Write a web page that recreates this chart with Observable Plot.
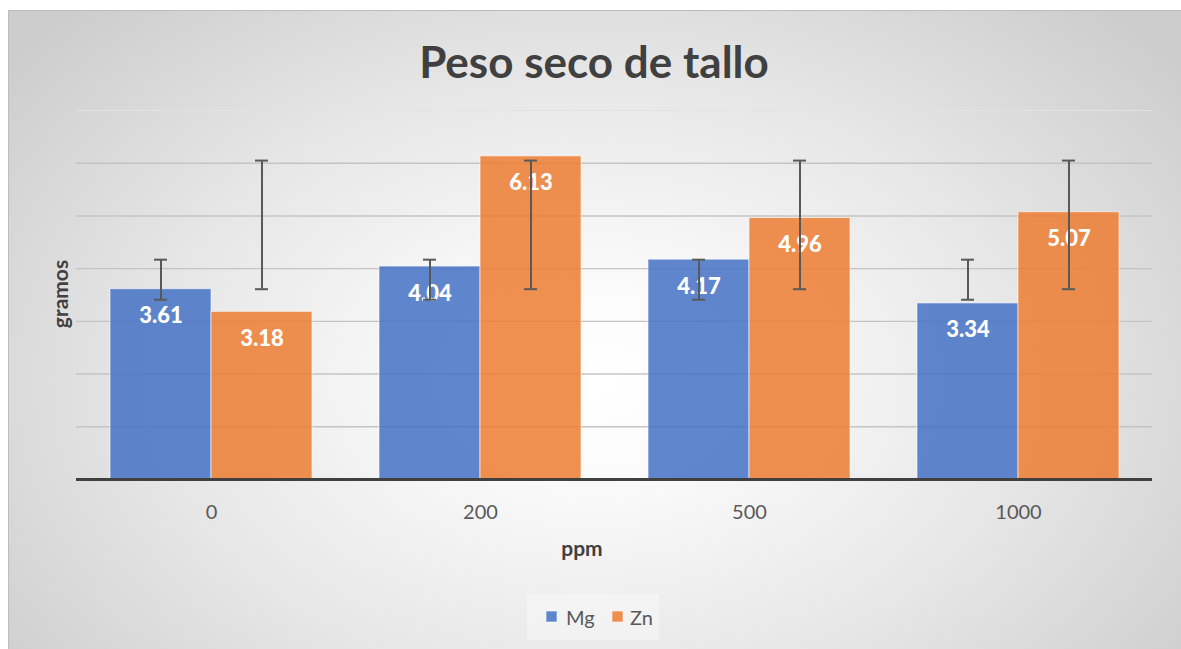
<!DOCTYPE html>
<html><head><meta charset="utf-8">
<script src="https://cdn.jsdelivr.net/npm/d3@7"></script>
<script src="https://cdn.jsdelivr.net/npm/@observablehq/plot@0.6"></script>
<style>
body{margin:0;background:#fff;}
#wrap{position:relative;width:1181px;height:649px;overflow:hidden;font-family:Lato,"Open Sans",sans-serif;}
#frame{position:absolute;left:8px;top:10px;width:1190px;height:660px;border:1px solid #bdbdbd;
 background:radial-gradient(ellipse 62% 78% at 49% 56%, #ffffff 0%, #fbfbfb 18%, #e6e6e6 60%, #cdcdcd 100%);}
.layer{position:absolute;left:0;top:90px;}
#txt{position:absolute;left:0;top:0;}
</style></head>
<body><div id="wrap"><div id="frame"></div><div id="g" class="layer"></div><div id="b" class="layer"></div><div id="a" class="layer"></div><svg id="txt" width="1181" height="649"></svg></div>
<script>
const ppm = ["0","200","500","1000"];
const series = ["Mg","Zn"];
const mg = [3.61,4.04,4.17,3.34];
const zn = [3.18,6.13,4.96,5.07];
const mgErrLow = [3.41,3.41,3.41,3.41];
const mgErrHigh = [4.17,4.17,4.17,4.17];
const znErrLow = [3.61,3.61,3.61,3.61];
const znErrHigh = [6.05,6.05,6.05,6.05];
const yGrid = [1,2,3,4,5,6];
const yTop = [7];
const colors = ["#4472C4","#ED7D31"];

const rows = [];
ppm.forEach((p,i)=>{
  rows.push({ppm:p, serie:"Mg", value:mg[i], lo:mgErrLow[i], hi:mgErrHigh[i]});
  rows.push({ppm:p, serie:"Zn", value:zn[i], lo:znErrLow[i], hi:znErrHigh[i]});
});

const common = {width:1181, height:480, marginLeft:76, marginRight:29, marginTop:20, marginBottom:91,
  y:{domain:[0,7], axis:null}, style:{background:"transparent", overflow:"visible"}};

const grid = Plot.plot({...common, x:{axis:null}, marks:[
  Plot.ruleY(yGrid, {stroke:"#c4c4c4", strokeWidth:1.4}),
  Plot.ruleY(yTop, {stroke:"#e2e2e2", strokeWidth:1.2})
]});
document.getElementById("g").append(grid);

const errStyle = {stroke:"#595959", strokeWidth:2};
const bars = Plot.plot({...common,
  fx:{domain:ppm, paddingInner:0.25, paddingOuter:0.125, label:null},
  x:{domain:series, axis:null, padding:0},
  color:{domain:series, range:colors},
  marks:[
    Plot.barY(rows, {fx:"ppm", x:"serie", y:"value", fill:"serie", fillOpacity:0.85, stroke:"#ffffff", strokeOpacity:0.6, strokeWidth:1}),
    Plot.text(rows, {fx:"ppm", x:"serie", y:"value", text:d=>d.value.toFixed(2), dy:27, fill:"white", fontWeight:"900", fontSize:22, fontFamily:"Lato"}),
    Plot.ruleX(rows, {fx:"ppm", x:"serie", y1:"lo", y2:"hi", ...errStyle}),
    Plot.tickY(rows, {fx:"ppm", x:"serie", y:"lo", insetLeft:44, insetRight:44, ...errStyle}),
    Plot.tickY(rows, {fx:"ppm", x:"serie", y:"hi", insetLeft:44, insetRight:44, ...errStyle}),
    Plot.axisFx({anchor:"bottom", tickSize:0, tickPadding:25, fontSize:20, fontFamily:"Lato", label:null, color:"#595959"})
  ]
});
document.getElementById("b").append(bars);

const axisLayer = Plot.plot({...common, x:{axis:null}, marks:[
  Plot.ruleY([0], {stroke:"#404040", strokeWidth:3})
]});
document.getElementById("a").append(axisLayer);

const svg = d3.select("#txt");
svg.append("text").attr("x",594).attr("y",78).attr("text-anchor","middle")
  .attr("font-family","Lato").attr("font-weight","bold").attr("font-size",44).attr("fill","#404040")
  .text("Peso seco de tallo");
svg.append("text").attr("transform","translate(61,294) rotate(-90)").attr("dy","0.35em").attr("text-anchor","middle")
  .attr("font-family","Lato").attr("font-weight","bold").attr("font-size",21).attr("fill","#404040")
  .text("gramos");
svg.append("text").attr("x",582).attr("y",556).attr("text-anchor","middle")
  .attr("font-family","Lato").attr("font-weight","bold").attr("font-size",21).attr("fill","#404040")
  .text("ppm");
// legend
svg.append("rect").attr("x",527).attr("y",594).attr("width",132).attr("height",46).attr("fill","#f6f6f6").attr("opacity",0.6);
const lx = [546, 612], tx = [566, 630];
series.forEach((s,i)=>{
  svg.append("rect").attr("x",lx[i]).attr("y",611).attr("width",11).attr("height",11)
    .attr("fill",colors[i]).attr("fill-opacity",0.85).attr("stroke","#fff").attr("stroke-opacity",0.6);
  svg.append("text").attr("x",tx[i]).attr("y",625).attr("font-family","Lato").attr("font-size",20).attr("fill","#595959").text(s);
});
</script></body></html>
